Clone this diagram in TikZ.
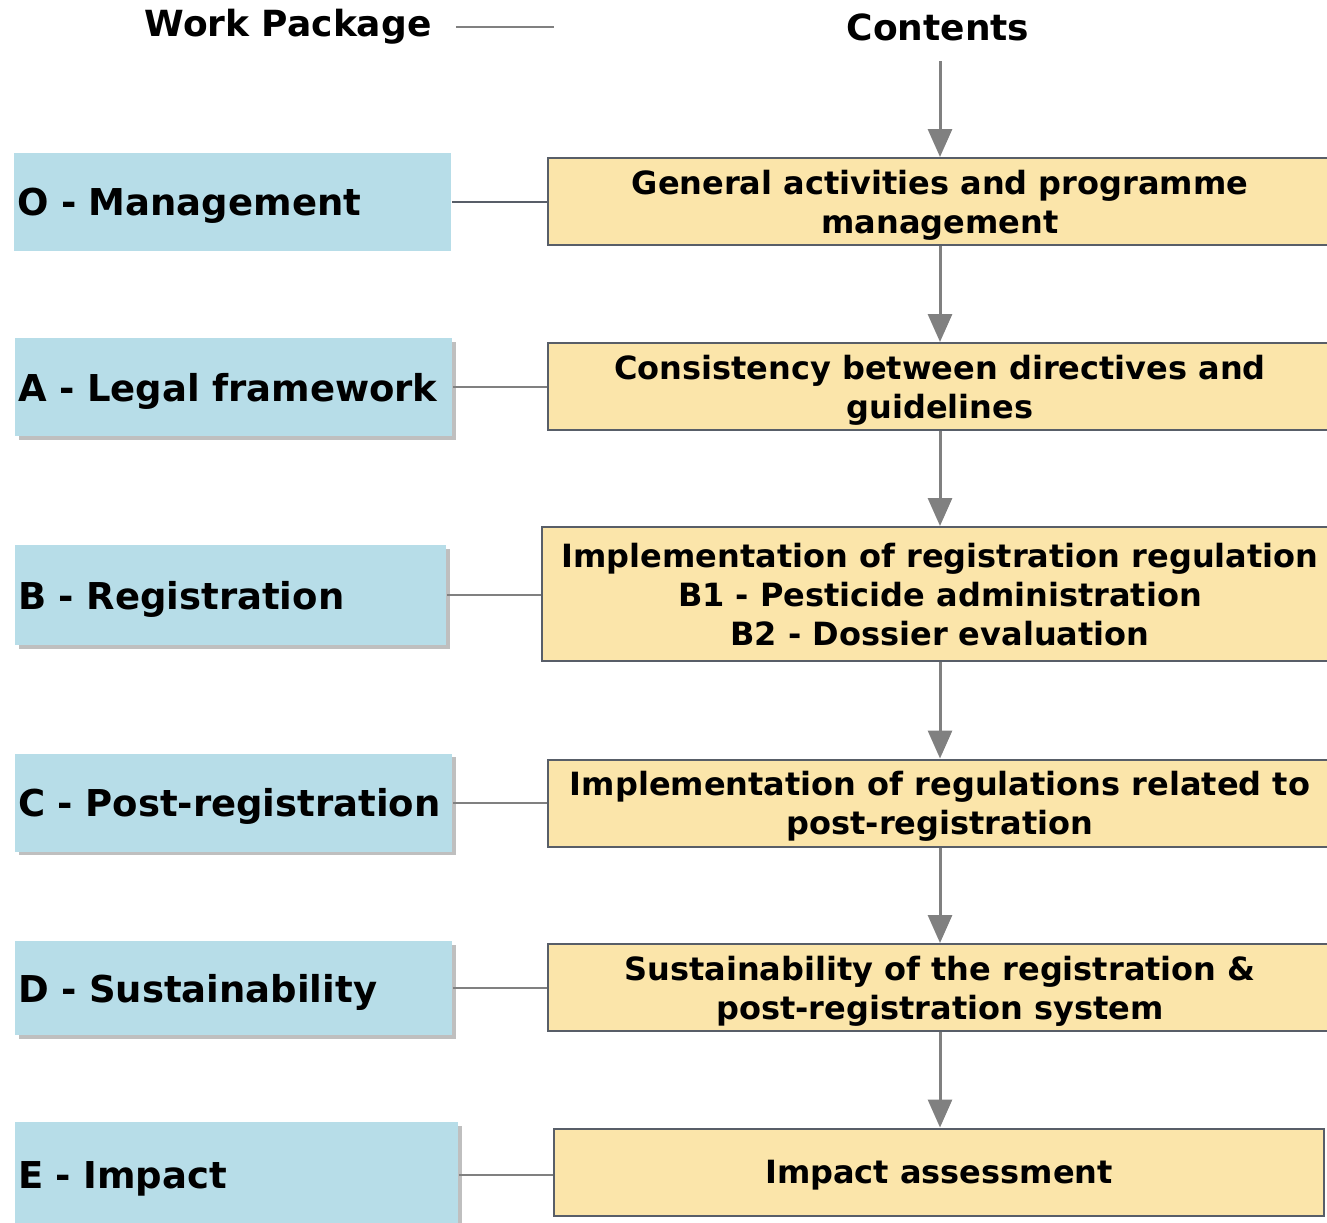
\documentclass[tikz,border=0pt]{standalone}
\usepackage{fontspec}
\setmainfont{DejaVu Sans}
\usetikzlibrary{arrows.meta,shadows}
\definecolor{wpblue}{RGB}{183,221,232}
\definecolor{ctyellow}{RGB}{251,229,170}
\definecolor{ctborder}{RGB}{88,94,104}
\definecolor{flowgray}{RGB}{128,128,128}
\tikzset{
  wpbox/.style={fill=wpblue, anchor=west, align=left, inner xsep=1.5pt, minimum height=49pt,
    text width=215.5pt, text depth=0pt, font=\fontsize{18.5}{22}\selectfont\bfseries},
  wpshadow/.style={drop shadow={shadow xshift=1.8pt, shadow yshift=-1.8pt, fill=black, opacity=0.25}},
  ctbox/.style={draw=ctborder, line width=1pt, fill=ctyellow, align=center, minimum width=392pt,
    minimum height=43.5pt, text depth=0pt, font=\fontsize{16}{19.5}\selectfont\bfseries},
  header/.style={inner sep=0pt, font=\fontsize{18}{22}\selectfont\bfseries},
  flow/.style={draw=flowgray, line width=1.5pt, -{Triangle[length=14pt,width=12pt]}},
  link/.style={draw=flowgray, line width=1pt}
}
\begin{document}
\begin{tikzpicture}[x=0.5pt, y=-0.5pt]
\useasboundingbox (0,0) rectangle (1327,1222);
% headers
\node[header] (hwp) at (288,27) {Work Package};
\node[header] (hct) at (938,27) {Contents};
\coordinate (hl) at (554,25);
\draw[link] ([xshift=12pt]hwp.east) -- (hwp.east -| hl);
% work packages
\node[wpbox] (w0) at (14,202) {O - Management};
\node[wpbox, wpshadow] (wa) at (15,387) {A - Legal framework};
\node[wpbox, wpshadow, minimum height=50pt, text width=212.5pt] (wb) at (15,595) {B - Registration};
\node[wpbox, wpshadow] (wc) at (15,802.5) {C - Post-registration};
\node[wpbox, wpshadow, minimum height=47pt] (wd) at (15,988) {D - Sustainability};
\node[wpbox, wpshadow, minimum height=53pt, text width=218.5pt] (we) at (15,1175) {E - Impact};
% contents
\node[ctbox] (c0) at (940,201.5) {General activities and programme\\management};
\node[ctbox] (ca) at (940,386.5) {Consistency between directives and\\guidelines};
\node[ctbox, minimum width=398pt, minimum height=67pt] (cb) at (940,594)
  {Implementation of registration regulation\\B1 - Pesticide administration\\B2 - Dossier evaluation};
\node[ctbox] (cc) at (940,803) {Implementation of regulations related to\\post-registration};
\node[ctbox] (cd) at (940,987.5) {Sustainability of the registration \&\\post-registration system};
\node[ctbox, minimum width=385pt] (ce) at (939,1172) {Impact assessment};
% arrows
\draw[flow, shorten <=10pt] (hct.south -| c0.north) -- (c0.north);
\foreach \p/\q in {c0/ca,ca/cb,cb/cc,cc/cd,cd/ce}
  \draw[flow] (\p.south) -- (\p.south |- \q.north);
\draw[link, draw=ctborder] (w0.east) -- (w0.east -| c0.west);
\foreach \p/\q in {wa/ca,wb/cb,wc/cc,wd/cd,we/ce}
  \draw[link] (\p.east) -- (\p.east -| \q.west);
\end{tikzpicture}
\end{document}
